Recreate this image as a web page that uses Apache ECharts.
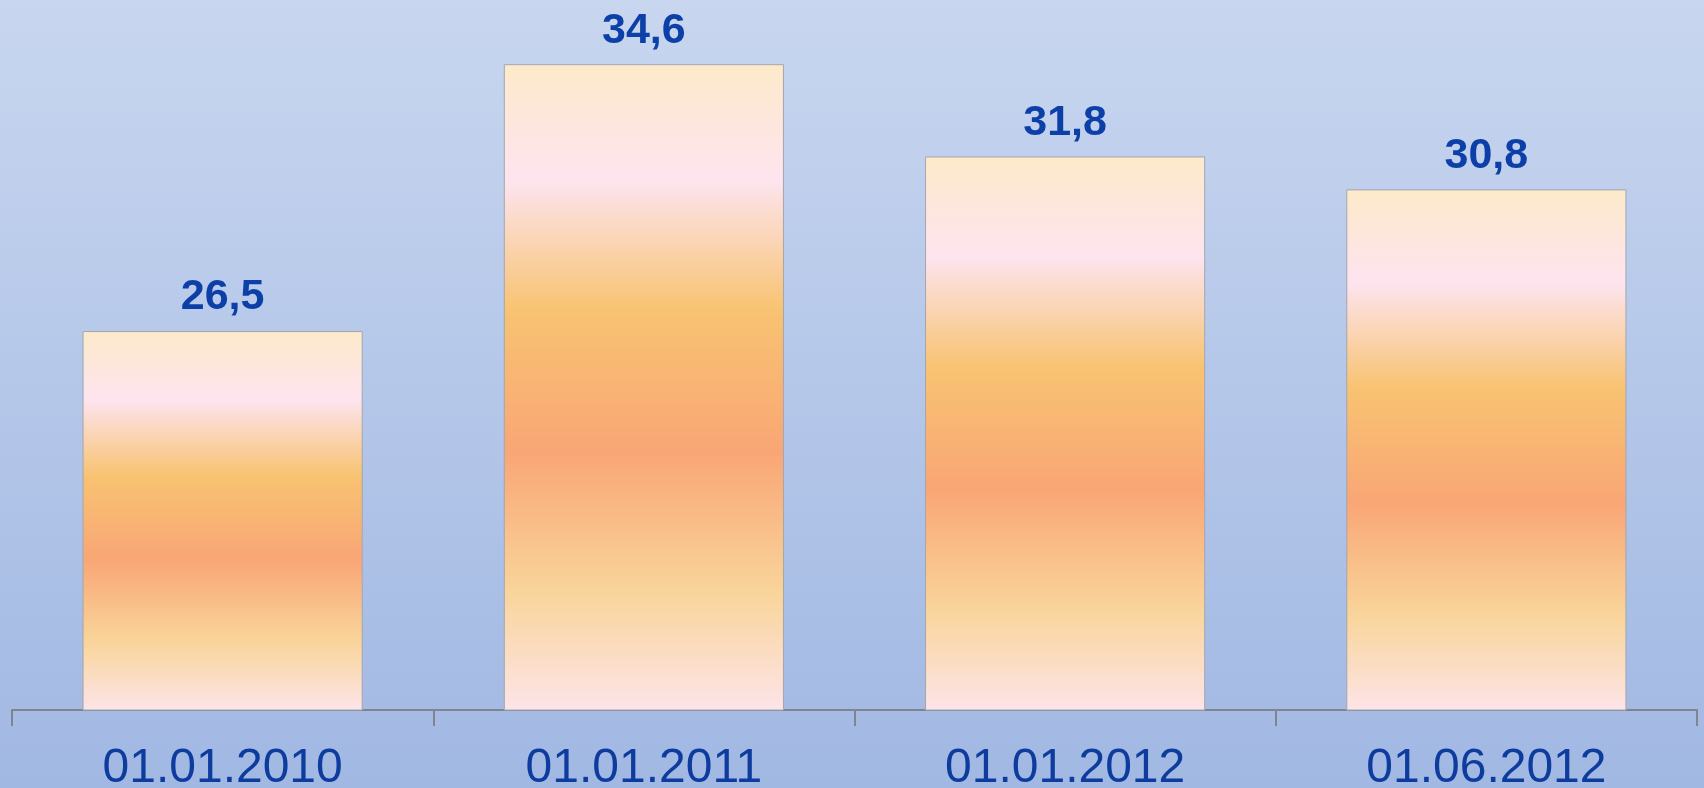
<!DOCTYPE html>
<html>
<head>
<meta charset="utf-8">
<script src="https://cdn.jsdelivr.net/npm/echarts@6/dist/echarts.min.js"></script>
<style>
html,body{margin:0;padding:0;width:1704px;height:788px;overflow:hidden;}
#c{width:1704px;height:788px;}
</style>
</head>
<body>
<div id="c"></div>
<script>
const categories = ['01.01.2010', '01.01.2011', '01.01.2012', '01.06.2012'];
const values = [26.5, 34.6, 31.8, 30.8];

const chart = echarts.init(document.getElementById('c'), null, {renderer: 'canvas'});
const barGradient = new echarts.graphic.LinearGradient(0, 0, 0, 1, [
  {offset: 0, color: '#fdeaca'},
  {offset: 0.18, color: '#fde4ef'},
  {offset: 0.38, color: '#f8c372'},
  {offset: 0.60, color: '#f9a675'},
  {offset: 0.82, color: '#f9d59b'},
  {offset: 1, color: '#fde4e8'}
]);
chart.setOption({
  animation: false,
  backgroundColor: new echarts.graphic.LinearGradient(0, 0, 0, 1, [
    {offset: 0, color: '#c8d6ef'},
    {offset: 1, color: '#a1b8e3'}
  ]),
  grid: {left: 12, right: 7, top: 51, bottom: 78, containLabel: false, outerBoundsMode: 'none'},
  xAxis: {
    type: 'category',
    data: categories,
    boundaryGap: true,
    axisLine: {show: true, lineStyle: {color: '#7f8590', width: 2}},
    axisTick: {show: true, length: 16, lineStyle: {color: '#7f8590', width: 2}},
    axisLabel: {
      color: '#0d3c9e',
      fontFamily: 'Liberation Sans, Arial, sans-serif',
      fontSize: 48,
      margin: 35
    }
  },
  yAxis: {
    type: 'value',
    min: 15,
    max: 35,
    show: false,
    splitLine: {show: false}
  },
  series: [{
    type: 'bar',
    data: values,
    barCategoryGap: '33.5%',
    itemStyle: {
      color: barGradient,
      borderColor: '#a3a6b0',
      borderWidth: 1
    },
    label: {
      show: true,
      position: 'top',
      distance: 12,
      color: '#0c3fa8',
      fontFamily: 'Liberation Sans, Arial, sans-serif',
      fontWeight: 'bold',
      fontSize: 43,
      formatter: p => String(p.value).replace('.', ',')
    }
  }]
});
</script>
</body>
</html>
